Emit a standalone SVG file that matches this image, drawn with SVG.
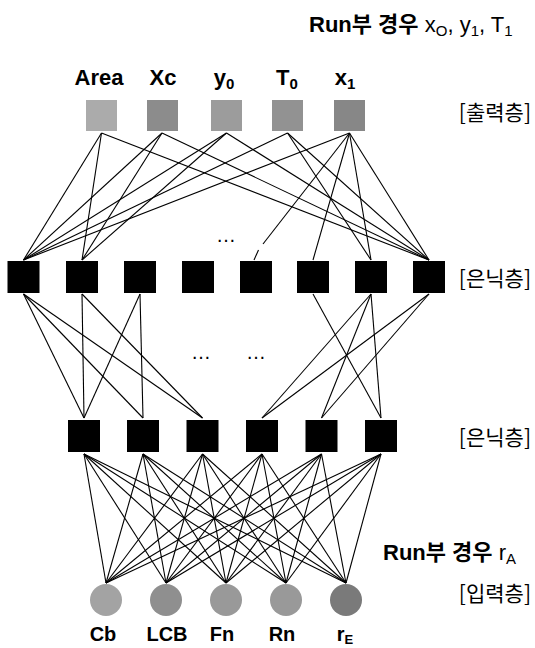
<svg xmlns="http://www.w3.org/2000/svg" width="535" height="648" viewBox="0 0 535 648">
<style>
.lbl{font-family:"Liberation Sans","Noto Sans CJK KR",sans-serif;fill:#000}
.kr{font-family:"Noto Sans CJK KR","Liberation Sans",sans-serif;fill:#000;font-size:21px;text-anchor:end}
.node{font-family:"Liberation Sans",sans-serif;font-weight:bold;fill:#000}
.hid{fill:#000}
.c line{stroke:#000;stroke-width:1.1}
</style>
<rect width="535" height="648" fill="#fff"/>
<g id="title-top"><text class="lbl" x="309" y="32" font-size="22"><tspan font-weight="bold">Run부 경우</tspan> x<tspan font-size="15" dy="4">O</tspan><tspan dy="-4">, y</tspan><tspan font-size="15" dy="4">1</tspan><tspan dy="-4">, T</tspan><tspan font-size="15" dy="4">1</tspan></text></g>
<g id="title-bottom"><text class="lbl" x="383" y="560" font-size="22"><tspan font-weight="bold">Run부 경우</tspan> r<tspan font-size="15" dy="4">A</tspan></text></g>
<g id="layer-labels">
<text class="kr" x="531" y="120">[출력층]</text>
<text class="kr" x="531" y="286">[은닉층]</text>
<text class="kr" x="531" y="445">[은닉층]</text>
<text class="kr" x="531" y="601">[입력층]</text>
</g>
<g id="connectors" class="c">
<line x1="101.5" y1="133" x2="23.5" y2="260"/><line x1="101.5" y1="133" x2="82" y2="260"/><line x1="101.5" y1="133" x2="429" y2="260"/>
<line x1="162" y1="133" x2="23.5" y2="260"/><line x1="162" y1="133" x2="82" y2="260"/><line x1="162" y1="133" x2="429" y2="260"/>
<line x1="226.5" y1="133" x2="23.5" y2="260"/><line x1="226.5" y1="133" x2="82" y2="260"/><line x1="226.5" y1="133" x2="429" y2="260"/>
<line x1="287.5" y1="133" x2="23.5" y2="260"/><line x1="287.5" y1="133" x2="371" y2="260"/><line x1="287.5" y1="133" x2="429" y2="260"/>
<line x1="349.5" y1="133" x2="23.5" y2="260"/><line x1="349.5" y1="133" x2="263" y2="244"/><line x1="258.5" y1="250" x2="254" y2="260"/><line x1="349.5" y1="133" x2="313" y2="260"/><line x1="349.5" y1="133" x2="371" y2="260"/><line x1="349.5" y1="133" x2="429" y2="260"/>
<line x1="23.5" y1="294" x2="84" y2="418"/><line x1="23.5" y1="294" x2="143" y2="418"/><line x1="23.5" y1="294" x2="202.5" y2="418"/>
<line x1="82" y1="294" x2="84" y2="418"/><line x1="82" y1="294" x2="202.5" y2="418"/>
<line x1="140" y1="294" x2="84" y2="418"/><line x1="140" y1="294" x2="143" y2="418"/>
<line x1="313" y1="294" x2="381" y2="418"/>
<line x1="371" y1="294" x2="262" y2="418"/><line x1="371" y1="294" x2="321.5" y2="418"/><line x1="371" y1="294" x2="381" y2="418"/>
<line x1="429" y1="294" x2="262" y2="418"/><line x1="429" y1="294" x2="321.5" y2="418"/>
<line x1="84" y1="454" x2="106" y2="583"/><line x1="84" y1="454" x2="166" y2="583"/><line x1="84" y1="454" x2="226" y2="583"/><line x1="84" y1="454" x2="286" y2="583"/><line x1="84" y1="454" x2="346" y2="583"/>
<line x1="143" y1="454" x2="106" y2="583"/><line x1="143" y1="454" x2="166" y2="583"/><line x1="143" y1="454" x2="226" y2="583"/><line x1="143" y1="454" x2="286" y2="583"/><line x1="143" y1="454" x2="346" y2="583"/>
<line x1="202.5" y1="454" x2="106" y2="583"/><line x1="202.5" y1="454" x2="166" y2="583"/><line x1="202.5" y1="454" x2="226" y2="583"/><line x1="202.5" y1="454" x2="286" y2="583"/><line x1="202.5" y1="454" x2="346" y2="583"/>
<line x1="262" y1="454" x2="106" y2="583"/><line x1="262" y1="454" x2="166" y2="583"/><line x1="262" y1="454" x2="226" y2="583"/><line x1="262" y1="454" x2="286" y2="583"/><line x1="262" y1="454" x2="346" y2="583"/>
<line x1="321.5" y1="454" x2="106" y2="583"/><line x1="321.5" y1="454" x2="166" y2="583"/><line x1="321.5" y1="454" x2="226" y2="583"/><line x1="321.5" y1="454" x2="286" y2="583"/><line x1="321.5" y1="454" x2="346" y2="583"/>
<line x1="381" y1="454" x2="106" y2="583"/><line x1="381" y1="454" x2="166" y2="583"/><line x1="381" y1="454" x2="226" y2="583"/><line x1="381" y1="454" x2="286" y2="583"/><line x1="381" y1="454" x2="346" y2="583"/>
</g>
<g id="ellipses">
<text class="lbl" x="226" y="242" font-size="20" text-anchor="middle">…</text>
<text class="lbl" x="201" y="359" font-size="20" text-anchor="middle">…</text>
<text class="lbl" x="256" y="359" font-size="20" text-anchor="middle">…</text>
</g>
<g id="out-Area"><rect x="86" y="100" width="31" height="31" fill="#ababab"/><text class="node" x="99" y="85" font-size="22" text-anchor="middle">Area</text></g>
<g id="out-Xc"><rect x="147" y="100" width="31" height="31" fill="#8c8c8c"/><text class="node" x="163" y="85" font-size="22" text-anchor="middle">Xc</text></g>
<g id="out-y0"><rect x="211" y="100" width="31" height="31" fill="#9c9c9c"/><text class="node" x="224" y="85" font-size="22" text-anchor="middle">y<tspan font-size="15" dy="4">0</tspan></text></g>
<g id="out-T0"><rect x="272" y="100" width="31" height="31" fill="#929292"/><text class="node" x="287" y="85" font-size="22" text-anchor="middle">T<tspan font-size="15" dy="4">0</tspan></text></g>
<g id="out-x1"><rect x="334" y="100" width="31" height="31" fill="#878787"/><text class="node" x="345" y="85" font-size="22" text-anchor="middle">x<tspan font-size="15" dy="4">1</tspan></text></g>
<g id="h1-1"><rect class="hid" x="7.5" y="261" width="32" height="32"/></g>
<g id="h1-2"><rect class="hid" x="66" y="261" width="32" height="32"/></g>
<g id="h1-3"><rect class="hid" x="124" y="261" width="32" height="32"/></g>
<g id="h1-4"><rect class="hid" x="182" y="261" width="32" height="32"/></g>
<g id="h1-5"><rect class="hid" x="240" y="261" width="32" height="32"/></g>
<g id="h1-6"><rect class="hid" x="297" y="261" width="32" height="32"/></g>
<g id="h1-7"><rect class="hid" x="355" y="261" width="32" height="32"/></g>
<g id="h1-8"><rect class="hid" x="413" y="261" width="32" height="32"/></g>
<g id="h2-1"><rect class="hid" x="68" y="420" width="32" height="32"/></g>
<g id="h2-2"><rect class="hid" x="127" y="420" width="32" height="32"/></g>
<g id="h2-3"><rect class="hid" x="186.5" y="420" width="32" height="32"/></g>
<g id="h2-4"><rect class="hid" x="246" y="420" width="32" height="32"/></g>
<g id="h2-5"><rect class="hid" x="305.5" y="420" width="32" height="32"/></g>
<g id="h2-6"><rect class="hid" x="365" y="420" width="32" height="32"/></g>
<g id="in-Cb"><circle cx="106" cy="600" r="16" fill="#a3a3a3"/><text class="node" x="103" y="641" font-size="20" text-anchor="middle">Cb</text></g>
<g id="in-LCB"><circle cx="166" cy="600" r="16" fill="#8f8f8f"/><text class="node" x="167" y="641" font-size="20" text-anchor="middle">LCB</text></g>
<g id="in-Fn"><circle cx="226" cy="600" r="16" fill="#999999"/><text class="node" x="222" y="641" font-size="20" text-anchor="middle">Fn</text></g>
<g id="in-Rn"><circle cx="286" cy="600" r="16" fill="#999999"/><text class="node" x="282" y="641" font-size="20" text-anchor="middle">Rn</text></g>
<g id="in-rE"><circle cx="346" cy="600" r="16" fill="#7a7a7a"/><text class="node" x="345" y="641" font-size="20" text-anchor="middle">r<tspan font-size="13" dy="3">E</tspan></text></g>
</svg>
